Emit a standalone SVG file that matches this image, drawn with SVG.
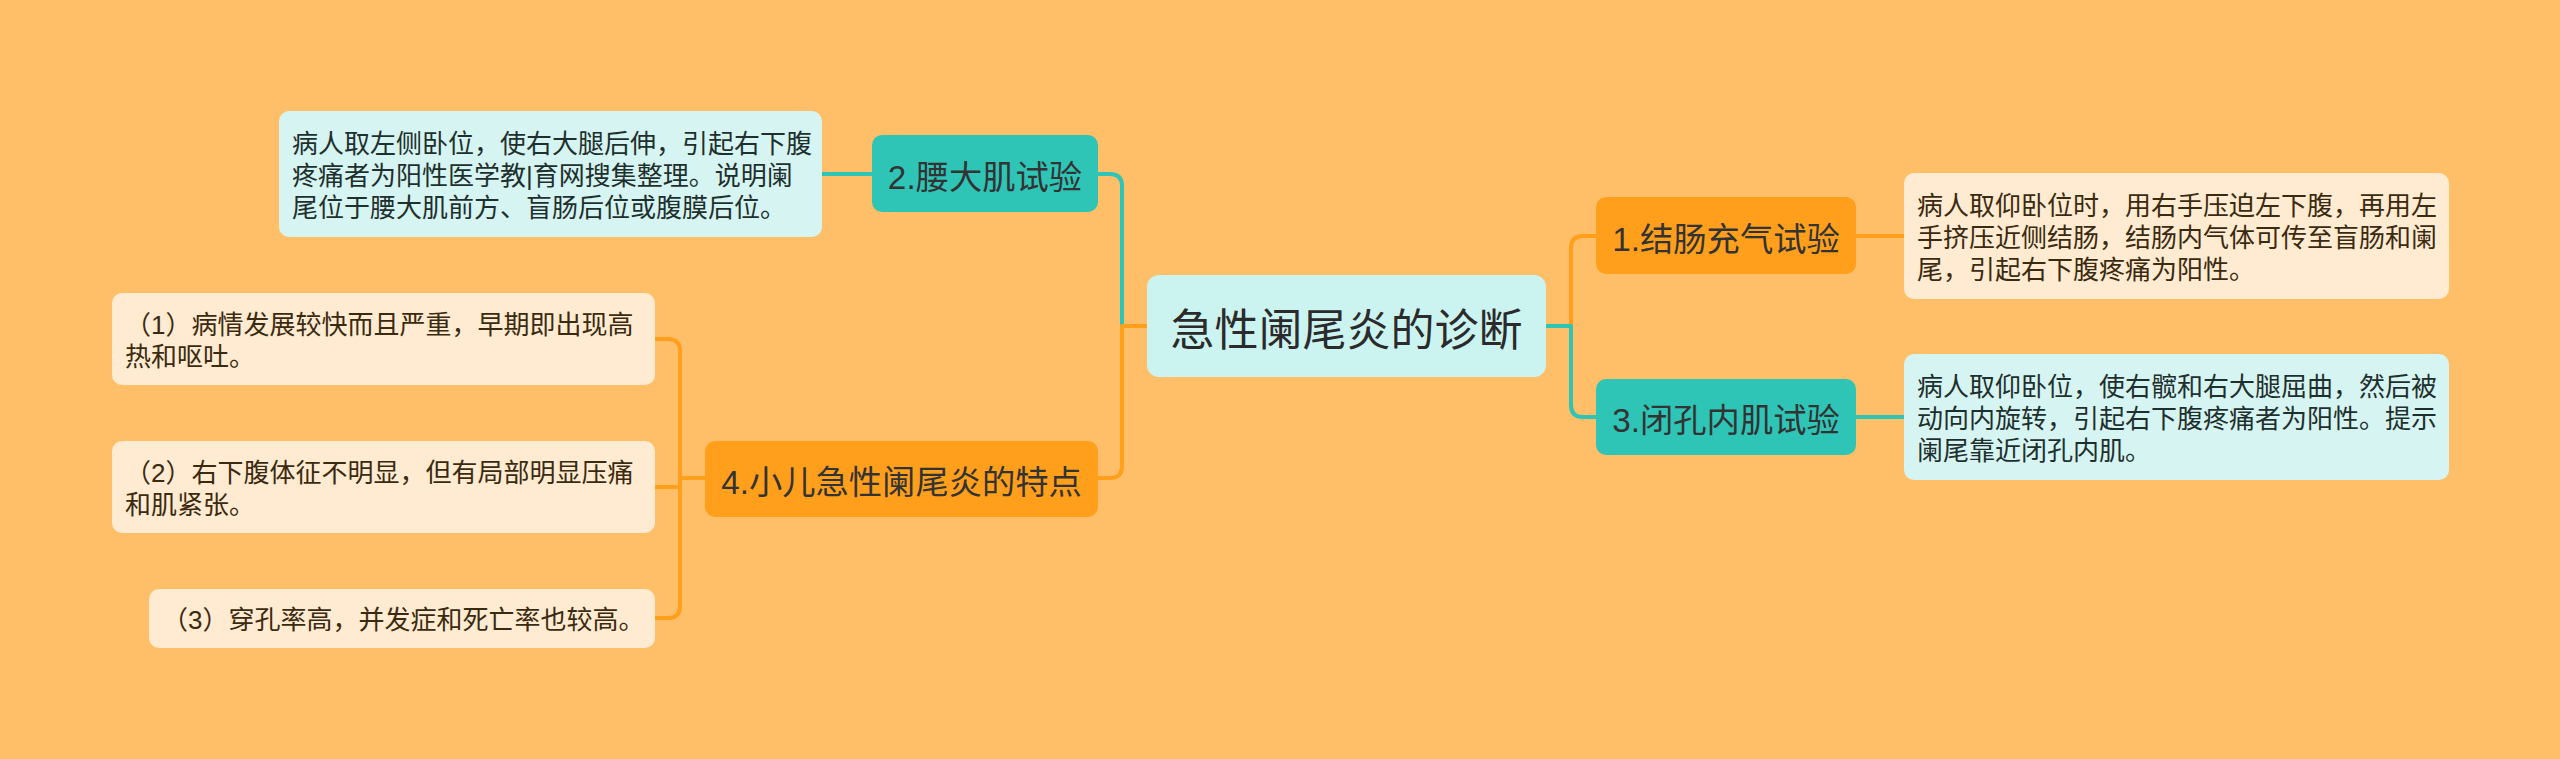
<svg xmlns="http://www.w3.org/2000/svg" width="2560" height="759" viewBox="0 0 2560 759">
<style>
text{font-family:"Liberation Sans","Noto Sans CJK SC",sans-serif;}
.c{fill:none;stroke-width:4;stroke-linejoin:round;stroke-linecap:round}
.ct{stroke:#2EC4B6}.co{stroke:#FF9F1C}
.root{fill:#CBF3F0}
.nt{fill:#2EC4B6}.no{fill:#FF9F1C}
.lt{fill:#D6F4F1}.lo{fill:#FFEBD1}
.rt{font-size:44px;fill:#2b2b2b}
.bt{font-size:33.3px;fill:#333333}
.st{font-size:26px;fill:#3a2a10}
.stt{font-size:26px;fill:#1e302e}
</style>
<rect width="2560" height="759" fill="#FFBF69"/>
<g id="connectors">
<path class="c ct" d="M1147 326 H1122 V186 Q1122 174 1110 174 H1097"/>
<path class="c co" d="M1147 326 H1122 V466 Q1122 478 1110 478 H1098"/>
<path class="c co" d="M1545 326 H1571 V248 Q1571 236 1583 236 H1596"/>
<path class="c ct" d="M1545 326 H1571 V405 Q1571 417 1583 417 H1596"/>
<path class="c co" d="M1855 236 H1904"/>
<path class="c ct" d="M1855 417 H1904"/>
<path class="c ct" d="M872 174 H822"/>
<path class="c co" d="M705 478 H680"/>
<path class="c co" d="M655 339 H668 Q680 339 680 351 V606 Q680 618 668 618 H655"/>
<path class="c co" d="M680 487 H655"/>
</g>
<g id="root">
<rect class="root" x="1147" y="275" width="399" height="102" rx="12"/>
<text class="rt" x="1346.5" y="330" text-anchor="middle" dominant-baseline="central">急性阑尾炎的诊断</text>
</g>
<g id="n2">
<rect class="nt" x="872" y="135" width="226" height="77" rx="10"/>
<text class="bt" x="985" y="177" text-anchor="middle" dominant-baseline="central">2.腰大肌试验</text>
</g>
<g id="n2c">
<rect class="lt" x="279" y="111" width="543" height="126" rx="10"/>
<text class="stt" x="292" dominant-baseline="central"><tspan x="292" y="144">病人取左侧卧位，使右大腿后伸，引起右下腹</tspan><tspan x="292" y="176">疼痛者为阳性医学教|育网搜集整理。说明阑</tspan><tspan x="292" y="208">尾位于腰大肌前方、盲肠后位或腹膜后位。</tspan></text>
</g>
<g id="n1">
<rect class="no" x="1596" y="197" width="260" height="77" rx="10"/>
<text class="bt" x="1726" y="239" text-anchor="middle" dominant-baseline="central">1.结肠充气试验</text>
</g>
<g id="n1c">
<rect class="lo" x="1904" y="173" width="545" height="126" rx="10"/>
<text class="st" x="1917" dominant-baseline="central"><tspan x="1917" y="206">病人取仰卧位时，用右手压迫左下腹，再用左</tspan><tspan x="1917" y="238">手挤压近侧结肠，结肠内气体可传至盲肠和阑</tspan><tspan x="1917" y="270">尾，引起右下腹疼痛为阳性。</tspan></text>
</g>
<g id="n3">
<rect class="nt" x="1596" y="379" width="260" height="76" rx="10"/>
<text class="bt" x="1726" y="420" text-anchor="middle" dominant-baseline="central">3.闭孔内肌试验</text>
</g>
<g id="n3c">
<rect class="lt" x="1904" y="354" width="545" height="126" rx="10"/>
<text class="stt" x="1917" dominant-baseline="central"><tspan x="1917" y="387">病人取仰卧位，使右髋和右大腿屈曲，然后被</tspan><tspan x="1917" y="419">动向内旋转，引起右下腹疼痛者为阳性。提示</tspan><tspan x="1917" y="451">阑尾靠近闭孔内肌。</tspan></text>
</g>
<g id="n4">
<rect class="no" x="705" y="441" width="393" height="76" rx="10"/>
<text class="bt" x="901.5" y="482" text-anchor="middle" dominant-baseline="central">4.小儿急性阑尾炎的特点</text>
</g>
<g id="n4c1">
<rect class="lo" x="112" y="293" width="543" height="92" rx="10"/>
<text class="st" x="125" dominant-baseline="central"><tspan x="125" y="325">（1）病情发展较快而且严重，早期即出现高</tspan><tspan x="125" y="357">热和呕吐。</tspan></text>
</g>
<g id="n4c2">
<rect class="lo" x="112" y="441" width="543" height="92" rx="10"/>
<text class="st" x="125" dominant-baseline="central"><tspan x="125" y="473">（2）右下腹体征不明显，但有局部明显压痛</tspan><tspan x="125" y="505">和肌紧张。</tspan></text>
</g>
<g id="n4c3">
<rect class="lo" x="149" y="589" width="506" height="59" rx="10"/>
<text class="st" x="162" y="620" dominant-baseline="central">（3）穿孔率高，并发症和死亡率也较高。</text>
</g>
</svg>
